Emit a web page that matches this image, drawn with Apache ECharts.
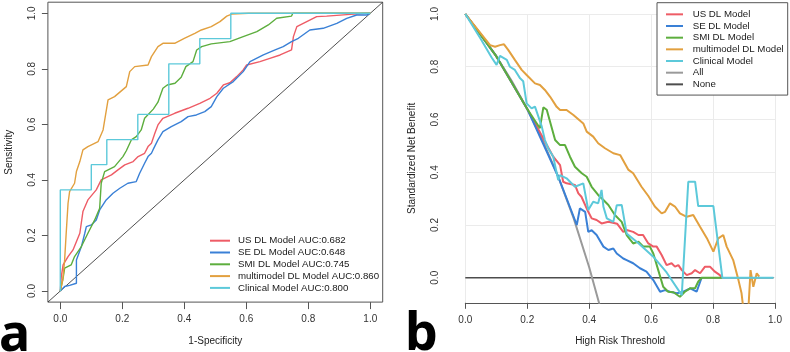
<!DOCTYPE html>
<html>
<head>
<meta charset="utf-8">
<script src="https://cdn.jsdelivr.net/npm/echarts@6.0.0/dist/echarts.min.js"></script>
<style>
  html, body { margin: 0; padding: 0; background: #fff; }
  #main { width: 790px; height: 352px; }
</style>
</head>
<body>
<div id="main"></div>
<script>
// ---------- panel a : ROC ----------
const rocNames = [
  'US DL Model AUC:0.682',
  'SE DL Model AUC:0.648',
  'SMI DL Model AUC:0.745',
  'multimodel DL Model AUC:0.860',
  'Clinical Model AUC:0.800'
];
// [1-specificity, sensitivity]
const rocUS = [[0,0],[0.003,0.05],[0.009,0.094],[0.025,0.124],[0.041,0.148],[0.063,0.208],[0.073,0.286],[0.089,0.328],[0.116,0.364],[0.132,0.40],[0.165,0.418],[0.186,0.436],[0.208,0.454],[0.235,0.466],[0.251,0.484],[0.272,0.496],[0.283,0.52],[0.294,0.532],[0.305,0.568],[0.315,0.598],[0.331,0.622],[0.369,0.64],[0.412,0.658],[0.45,0.676],[0.483,0.694],[0.505,0.712],[0.526,0.742],[0.547,0.75],[0.569,0.772],[0.59,0.796],[0.601,0.814],[0.644,0.826],[0.676,0.838],[0.709,0.85],[0.746,0.868],[0.752,0.916],[0.763,0.952],[0.795,0.97],[0.827,0.988],[0.859,0.99],[0.935,0.996],[0.989,1],[1,1]];
const rocSE = [[0,0],[0.014,0.016],[0.03,0.02],[0.052,0.028],[0.052,0.112],[0.068,0.16],[0.079,0.208],[0.084,0.232],[0.1,0.238],[0.116,0.256],[0.127,0.292],[0.148,0.328],[0.17,0.352],[0.192,0.37],[0.218,0.388],[0.245,0.394],[0.256,0.424],[0.272,0.46],[0.283,0.484],[0.294,0.496],[0.299,0.508],[0.315,0.544],[0.331,0.574],[0.358,0.592],[0.39,0.61],[0.412,0.628],[0.439,0.634],[0.466,0.646],[0.487,0.664],[0.505,0.70],[0.526,0.73],[0.558,0.754],[0.59,0.79],[0.612,0.826],[0.655,0.85],[0.693,0.868],[0.719,0.88],[0.746,0.898],[0.768,0.91],[0.805,0.94],[0.848,0.946],[0.892,0.964],[0.924,0.982],[0.956,0.994],[0.989,0.994],[1,1]];
const rocSMI = [[0,0],[0.003,0.004],[0.009,0.046],[0.014,0.082],[0.035,0.094],[0.046,0.124],[0.068,0.16],[0.089,0.208],[0.111,0.256],[0.127,0.298],[0.132,0.388],[0.143,0.43],[0.175,0.448],[0.202,0.484],[0.213,0.505],[0.229,0.544],[0.245,0.556],[0.261,0.58],[0.272,0.622],[0.3,0.655],[0.315,0.68],[0.331,0.73],[0.345,0.742],[0.37,0.748],[0.39,0.77],[0.405,0.808],[0.428,0.826],[0.44,0.868],[0.456,0.88],[0.487,0.89],[0.547,0.898],[0.59,0.916],[0.634,0.934],[0.671,0.958],[0.698,0.982],[0.746,0.99],[0.75,1],[1,1]];
const rocMulti = [[0,0],[0.008,0.04],[0.014,0.112],[0.019,0.208],[0.025,0.316],[0.03,0.358],[0.046,0.388],[0.052,0.43],[0.063,0.466],[0.073,0.508],[0.089,0.52],[0.122,0.538],[0.138,0.58],[0.154,0.688],[0.175,0.70],[0.213,0.736],[0.224,0.79],[0.24,0.808],[0.283,0.814],[0.294,0.844],[0.315,0.88],[0.331,0.892],[0.369,0.892],[0.4,0.91],[0.434,0.928],[0.455,0.94],[0.487,0.952],[0.515,0.97],[0.537,0.99],[0.553,0.997],[0.607,1],[1,1]];
const rocClin = [[0,0],[0,0.364],[0.1,0.364],[0.1,0.455],[0.15,0.455],[0.15,0.545],[0.25,0.545],[0.25,0.636],[0.35,0.636],[0.35,0.818],[0.45,0.818],[0.45,0.909],[0.55,0.909],[0.55,1],[1,1]];

// ---------- panel b : decision curves ----------
const dcaNames = ['US DL Model', 'SE DL Model', 'SMI DL Model', 'multimodel DL Model', 'Clinical Model', 'All', 'None'];
// [threshold, standardized net benefit]
const dcaUS = [[0,1],[0.1,0.84],[0.2,0.64],[0.284,0.459],[0.306,0.427],[0.316,0.364],[0.327,0.358],[0.354,0.352],[0.365,0.32],[0.375,0.307],[0.397,0.25],[0.408,0.225],[0.424,0.219],[0.44,0.206],[0.462,0.212],[0.49,0.205],[0.51,0.174],[0.521,0.181],[0.542,0.174],[0.559,0.162],[0.574,0.162],[0.591,0.13],[0.607,0.118],[0.618,0.118],[0.634,0.086],[0.65,0.048],[0.666,0.055],[0.677,0.042],[0.688,0.048],[0.699,0.029],[0.715,0.01],[0.731,0.017],[0.742,0.029],[0.758,0.017],[0.774,0.042],[0.79,0.042],[0.806,0.023],[0.822,0.01],[0.828,0]];
const dcaSE = [[0,1],[0.1,0.84],[0.2,0.64],[0.3,0.383],[0.36,0.2],[0.37,0.263],[0.387,0.25],[0.397,0.174],[0.408,0.18],[0.424,0.162],[0.446,0.118],[0.462,0.105],[0.478,0.111],[0.489,0.092],[0.51,0.073],[0.521,0.067],[0.542,0.055],[0.564,0.036],[0.585,0.023],[0.607,-0.009],[0.629,-0.053],[0.645,-0.047],[0.661,-0.053],[0.683,-0.059],[0.704,-0.053],[0.726,-0.04],[0.747,-0.053],[0.763,0]];
const dcaSMI = [[0,1],[0.1,0.84],[0.2,0.64],[0.241,0.567],[0.252,0.646],[0.263,0.637],[0.29,0.522],[0.306,0.503],[0.322,0.503],[0.338,0.459],[0.354,0.421],[0.376,0.396],[0.392,0.383],[0.408,0.345],[0.429,0.314],[0.446,0.295],[0.462,0.276],[0.483,0.238],[0.505,0.212],[0.521,0.162],[0.542,0.13],[0.559,0.137],[0.575,0.118],[0.596,0.118],[0.607,0.092],[0.623,0.029],[0.639,-0.034],[0.655,-0.053],[0.672,-0.055],[0.693,-0.072],[0.709,-0.053],[0.726,-0.04],[0.742,-0.04],[0.752,-0.015],[0.763,0],[0.828,0]];
const dcaMulti = [[0,1],[0.08,0.882],[0.096,0.876],[0.112,0.882],[0.125,0.885],[0.139,0.863],[0.16,0.826],[0.182,0.788],[0.198,0.769],[0.225,0.737],[0.241,0.731],[0.257,0.712],[0.274,0.686],[0.295,0.648],[0.306,0.636],[0.327,0.636],[0.349,0.617],[0.381,0.585],[0.392,0.554],[0.413,0.535],[0.429,0.51],[0.451,0.491],[0.478,0.472],[0.5,0.465],[0.526,0.41],[0.542,0.396],[0.569,0.345],[0.591,0.31],[0.612,0.27],[0.634,0.244],[0.645,0.25],[0.661,0.282],[0.677,0.27],[0.693,0.244],[0.715,0.231],[0.736,0.238],[0.758,0.193],[0.78,0.15],[0.801,0.099],[0.817,0.149],[0.833,0.162],[0.844,0.118],[0.865,0.067],[0.882,-0.009],[0.892,-0.059],[0.898,-0.12],[0.914,-0.12],[0.921,0.029],[0.93,-0.034],[0.941,0.017],[0.949,0.004]];
const dcaClin = [[0,1],[0.05,0.905],[0.085,0.835],[0.101,0.807],[0.112,0.841],[0.134,0.826],[0.144,0.8],[0.16,0.788],[0.177,0.756],[0.187,0.745],[0.198,0.661],[0.214,0.642],[0.225,0.649],[0.236,0.611],[0.247,0.573],[0.257,0.522],[0.268,0.49],[0.284,0.459],[0.3,0.37],[0.306,0.389],[0.327,0.377],[0.354,0.345],[0.381,0.358],[0.397,0.257],[0.413,0.288],[0.429,0.282],[0.44,0.333],[0.446,0.269],[0.457,0.225],[0.478,0.212],[0.489,0.275],[0.505,0.276],[0.51,0.269],[0.521,0.168],[0.56,0.13],[0.607,0.08],[0.65,0.02],[0.699,-0.066],[0.72,0.364],[0.742,0.364],[0.752,0.272],[0.801,0.272],[0.83,0],[0.995,0]];
const dcaAll = [[0,1],[0.05,0.924],[0.1,0.84],[0.15,0.746],[0.2,0.64],[0.25,0.52],[0.3,0.383],[0.35,0.225],[0.4,0.04],[0.44,-0.13]];
const dcaNone = [[0,0],[0.995,0]];

const tickValues = [0, 0.2, 0.4, 0.6, 0.8, 1];
const tickLabels = ['0.0', '0.2', '0.4', '0.6', '0.8', '1.0'];

const colors = ['#EE5C66', '#3A80D6', '#5DAE3E', '#E2A03F', '#5CC9DA'];
const allColor = '#9a9a9a';
const noneColor = '#4d4d4d';

const font = 'Liberation Sans';
const fmt = v => { const i = tickValues.indexOf(v); return i >= 0 ? tickLabels[i] : v.toFixed(1); };

const chart = echarts.init(document.getElementById('main'));

function lineSeries(name, data, color, width, idx) {
  return {
    name: name,
    type: 'line',
    xAxisIndex: idx,
    yAxisIndex: idx,
    data: data,
    showSymbol: false,
    symbol: 'none',
    animation: false,
    lineStyle: { color: color, width: width },
    itemStyle: { color: color }
  };
}

const rocData = [rocUS, rocSE, rocSMI, rocMulti, rocClin];
const dcaData = [dcaUS, dcaSE, dcaSMI, dcaMulti, dcaClin];

const series = [];
series.push(lineSeries('diag', [[-0.04, -0.04], [1.04, 1.04]], '#222', 0.8, 0));
rocData.forEach((d, i) => series.push(lineSeries(rocNames[i], d, colors[i], 1.4, 0)));
series.push(lineSeries('None', dcaNone, noneColor, 1.5, 1));
series.push(lineSeries('All', dcaAll, allColor, 2, 1));
dcaData.forEach((d, i) => series.push(lineSeries(dcaNames[i], d, colors[i], 2, 1)));

const labelStyle = { fontFamily: font, fontSize: 10, color: '#333' };
const nameStyle = { fontFamily: font, fontSize: 10, color: '#222' };

const option = {
  backgroundColor: '#fff',
  animation: false,
  grid: [
    { left: 47.9, top: 2.2, width: 334.8, height: 299.9, show: true, borderColor: '#555', borderWidth: 1, outerBoundsMode: 'none' },
    { left: 465.3, top: 14, width: 309.7, height: 288.8, outerBoundsMode: 'none' }
  ],
  xAxis: [
    {
      gridIndex: 0, type: 'value', min: -0.04, max: 1.04,
      name: '1-Specificity', nameLocation: 'middle', nameGap: 34, nameTextStyle: nameStyle,
      axisLine: { show: false, onZero: false },
      axisTick: { show: true, length: 7, customValues: tickValues, lineStyle: { color: '#555' } },
      axisLabel: { ...labelStyle, margin: 12, customValues: tickValues, formatter: fmt },
      splitLine: { show: false }
    },
    {
      gridIndex: 1, type: 'value', min: 0, max: 1, interval: 0.2,
      name: 'High Risk Threshold', nameLocation: 'middle', nameGap: 33, nameTextStyle: nameStyle,
      axisLine: { show: true, onZero: false, lineStyle: { color: '#555', width: 1 } },
      axisTick: { show: true, length: 6, lineStyle: { color: '#555' } },
      axisLabel: { ...labelStyle, margin: 12, formatter: fmt },
      splitLine: { show: true, lineStyle: { color: '#ebebeb', width: 1 } }
    }
  ],
  yAxis: [
    {
      gridIndex: 0, type: 'value', min: -0.04, max: 1.04,
      name: 'Sensitivity', nameLocation: 'middle', nameGap: 34, nameRotate: 90, nameTextStyle: nameStyle,
      axisLine: { show: false, onZero: false },
      axisTick: { show: true, length: 6, customValues: tickValues, lineStyle: { color: '#555' } },
      axisLabel: { ...labelStyle, rotate: 90, margin: 11, customValues: tickValues, formatter: fmt },
      splitLine: { show: false }
    },
    {
      gridIndex: 1, type: 'value', min: -0.095, max: 1,
      name: 'Standardized Net Benefit', nameLocation: 'middle', nameGap: 48, nameRotate: 90, nameTextStyle: nameStyle,
      axisLine: { show: false, onZero: false },
      axisTick: { show: false, customValues: tickValues },
      axisLabel: { ...labelStyle, rotate: 90, margin: 25, customValues: tickValues, formatter: fmt },
      splitLine: { show: true, lineStyle: { color: '#ebebeb', width: 1 } }
    }
  ],
  legend: [
    {
      data: rocNames, orient: 'vertical', left: 210, top: 234.8, padding: 0,
      itemWidth: 20, itemHeight: 2, itemGap: 0, icon: 'rect', selectedMode: false,
      textStyle: { fontFamily: font, fontSize: 9.7, lineHeight: 11.8, color: '#1a1a1a', padding: [0, 0, 0, 3] }
    },
    {
      data: dcaNames, orient: 'vertical', left: 657, top: 2.7, padding: [5.8, 4, 4.9, 9],
      backgroundColor: '#fff', borderColor: '#555', borderWidth: 1,
      itemWidth: 17, itemHeight: 2, itemGap: 0, icon: 'rect', selectedMode: false,
      textStyle: { fontFamily: font, fontSize: 9.7, lineHeight: 11.67, color: '#1a1a1a', padding: [0, 0, 0, 4.7] }
    }
  ],
  graphic: [
    { type: 'text', left: -1, top: 310, style: { text: 'a', font: 'bold 52px "Noto Sans"', fill: '#000' } },
    { type: 'text', left: 405, top: 308.7, style: { text: 'b', font: 'bold 52px "Noto Sans"', fill: '#000' } }
  ],
  series: series
};

chart.setOption(option);
</script>
</body>
</html>
